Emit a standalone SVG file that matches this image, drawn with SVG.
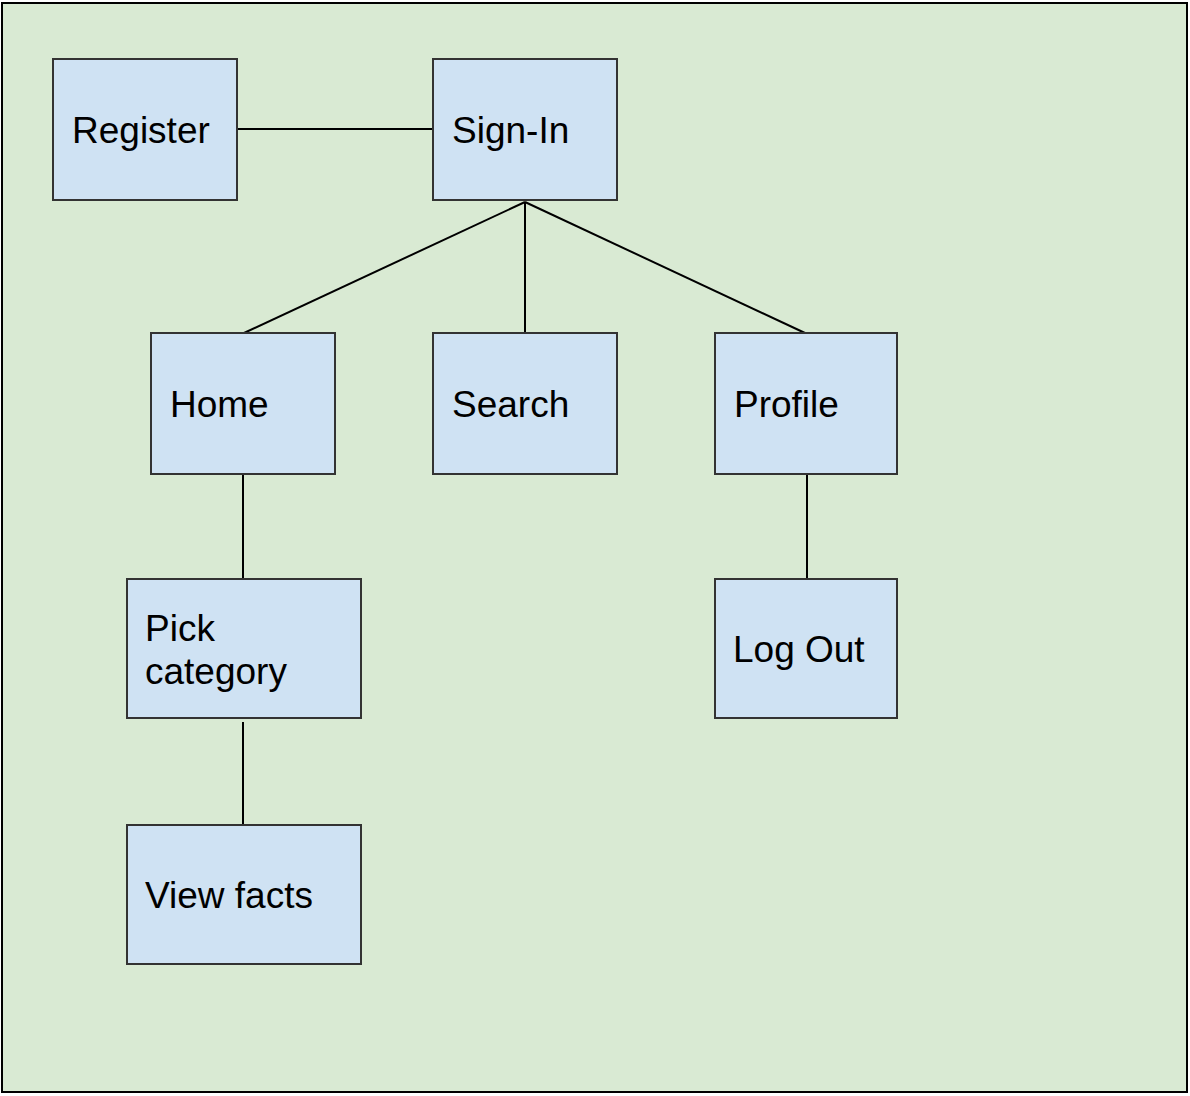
<svg xmlns="http://www.w3.org/2000/svg" width="1190" height="1096" viewBox="0 0 1190 1096">
<style>
.bg{fill:#d9ead3;stroke:#000;stroke-width:2}
.n{fill:#cfe2f3;stroke:#333;stroke-width:2}
.t{font-family:"Liberation Sans",Arial,sans-serif;font-size:37px;fill:#000}
.c{stroke:#000;stroke-width:2;fill:none}
</style>
<rect class="bg" x="2" y="3" width="1185" height="1089"/>
<g id="connectors">
<line class="c" x1="237" y1="129" x2="433" y2="129"/>
<line class="c" x1="525" y1="202" x2="244" y2="333"/>
<line class="c" x1="525" y1="202" x2="525" y2="333"/>
<line class="c" x1="525" y1="202" x2="805" y2="333"/>
<line class="c" x1="243" y1="474" x2="243" y2="579"/>
<line class="c" x1="243" y1="722" x2="243" y2="825"/>
<line class="c" x1="807" y1="474" x2="807" y2="579"/>
</g>
<g id="register"><rect class="n" x="53" y="59" width="184" height="141"/><text class="t" x="72" y="143">Register</text></g>
<g id="signin"><rect class="n" x="433" y="59" width="184" height="141"/><text class="t" x="452" y="143">Sign-In</text></g>
<g id="home"><rect class="n" x="151" y="333" width="184" height="141"/><text class="t" x="170" y="417">Home</text></g>
<g id="search"><rect class="n" x="433" y="333" width="184" height="141"/><text class="t" x="452" y="417">Search</text></g>
<g id="profile"><rect class="n" x="715" y="333" width="182" height="141"/><text class="t" x="734" y="417">Profile</text></g>
<g id="pick"><rect class="n" x="127" y="579" width="234" height="139"/><text class="t" x="145" y="641">Pick</text><text class="t" x="145" y="684">category</text></g>
<g id="logout"><rect class="n" x="715" y="579" width="182" height="139"/><text class="t" x="733" y="662">Log Out</text></g>
<g id="viewfacts"><rect class="n" x="127" y="825" width="234" height="139"/><text class="t" x="145" y="908">View facts</text></g>
</svg>
